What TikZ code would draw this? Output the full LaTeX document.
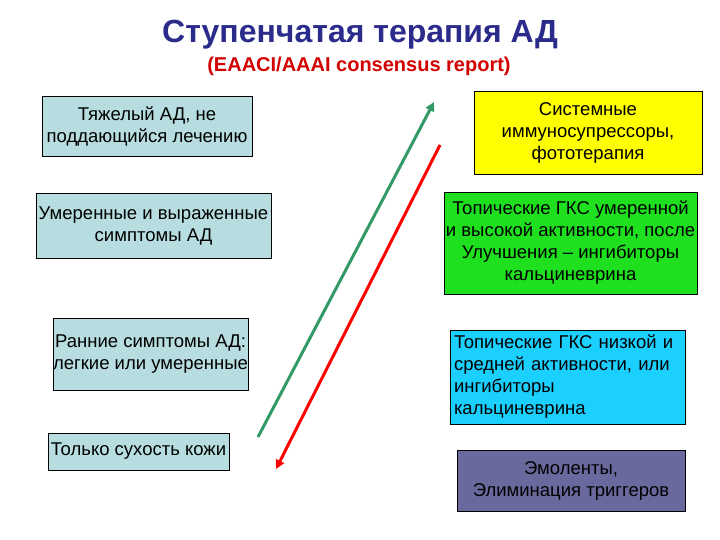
\documentclass[tikz,border=0pt]{standalone}
\usepackage{fontspec}
\setmainfont{Liberation Sans}
\usetikzlibrary{arrows.meta}
\definecolor{leftfill}{RGB}{183,221,224}
\definecolor{yel}{RGB}{255,255,0}
\definecolor{grn}{RGB}{30,224,30}
\definecolor{cyn}{RGB}{27,207,255}
\definecolor{pur}{RGB}{105,105,158}
\definecolor{navy}{RGB}{43,43,140}
\definecolor{tred}{RGB}{210,0,0}
\definecolor{arrgreen}{RGB}{51,153,102}
\definecolor{arrred}{RGB}{255,0,0}
\tikzset{
  box/.style={draw=black, line width=0.8pt, inner sep=0pt, align=center,
    font=\fontsize{18.5}{22}\selectfont, text=black},
  lbox/.style={box, fill=leftfill},
  arr/.style={line width=3pt, -{Triangle[length=9pt,width=9pt]}}
}
\begin{document}
\begin{tikzpicture}[x=1pt,y=-1pt]
\useasboundingbox (0,0) rectangle (720,540);
\fill[white] (0,0) rectangle (720,540);
\node[font=\fontsize{32}{36}\selectfont\bfseries, text=navy] (title) at (360,35) {Ступенчатая терапия АД};
\node[font=\fontsize{20}{24}\selectfont\bfseries, text=tred] (sub) at (359,66) {(EAACI/AAAI consensus report)};
% left boxes
\node[lbox, minimum width=210pt, minimum height=60pt] (l1) at (147,126) {Тяжелый АД, не\\поддающийся лечению};
\node[lbox, minimum width=235pt, minimum height=65pt] (l2) at (153.5,225.5) {Умеренные и выраженные\\симптомы АД};
\node[lbox, minimum width=193pt, minimum height=72pt] (l3) at (150.5,354) {Ранние симптомы АД:\\легкие или умеренные};
\node[lbox, minimum width=181pt, minimum height=37pt] (l4) at (138.5,451.5) {Только сухость кожи};
% right boxes
\node[box, fill=yel, minimum width=228pt, minimum height=83pt] (r1) at (588,132.5) {Системные\\иммуносупрессоры,\\фототерапия};
\node[box, fill=grn, minimum width=253pt, minimum height=102pt] (r2) at (570.5,243) {Топические ГКС умеренной\\и высокой активности, после\\Улучшения -- ингибиторы\\кальциневрина};
\node[box, fill=cyn, minimum width=235pt, minimum height=94pt, text width=227pt, align=left] (r3) at (567.5,377) {Топические ГКС низкой и\\средней активности, или\\ингибиторы\\кальциневрина};
\node[box, fill=pur, minimum width=228pt, minimum height=61pt] (r4) at (571,480.5) {Эмоленты,\\Элиминация триггеров};
% arrows
\coordinate (g1) at (258,437);
\coordinate (g2) at (434,102);
\coordinate (rd1) at (440,145);
\coordinate (rd2) at (276,469);
\draw[arr, arrgreen] (g1) -- (g2);
\draw[arr, arrred] (rd1) -- (rd2);
\end{tikzpicture}
\end{document}
